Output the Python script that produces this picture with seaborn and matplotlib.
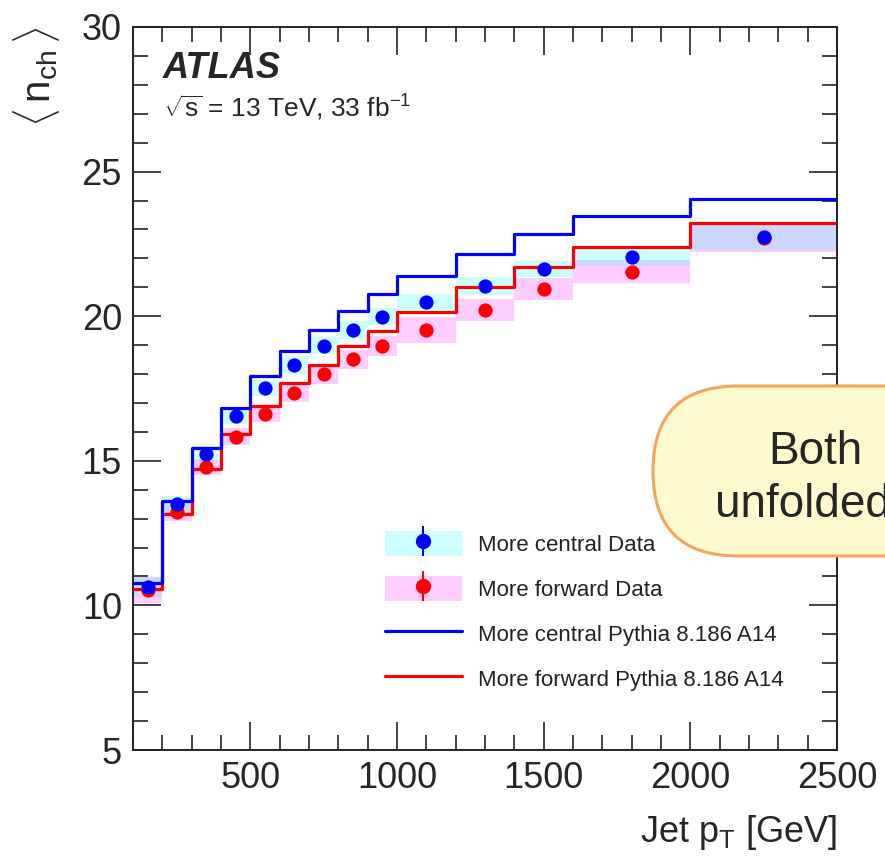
import matplotlib
matplotlib.use("Agg")
import matplotlib.pyplot as plt
import seaborn as sns
import numpy as np
import pandas as pd
from matplotlib.patches import Patch, FancyBboxPatch
from matplotlib.lines import Line2D
from matplotlib.ticker import MultipleLocator

# ---------------- data ----------------
bin_edges = [100, 200, 300, 400, 500, 600, 700, 800, 900, 1000, 1200, 1400, 1600, 2000, 2500]
central_data = [10.63, 13.50, 15.25, 16.54, 17.53, 18.31, 18.98, 19.52, 19.98, 20.49, 21.04, 21.62, 22.05, 22.75]
forward_data = [10.53, 13.23, 14.77, 15.84, 16.63, 17.35, 17.99, 18.51, 18.96, 19.53, 20.21, 20.95, 21.54, 22.69]
central_err = [0.35, 0.29, 0.25, 0.27, 0.28, 0.30, 0.30, 0.30, 0.30, 0.28, 0.30, 0.28, 0.30, 0.45]
forward_err = [0.46, 0.30, 0.27, 0.30, 0.30, 0.30, 0.32, 0.33, 0.35, 0.45, 0.38, 0.38, 0.40, 0.46]
central_mc = [10.77, 13.61, 15.44, 16.83, 17.93, 18.80, 19.54, 20.19, 20.78, 21.38, 22.15, 22.83, 23.46, 24.05]
forward_mc = [10.56, 13.16, 14.72, 15.93, 16.88, 17.68, 18.31, 18.96, 19.50, 20.15, 21.00, 21.69, 22.40, 23.23]

legend_labels = ["More central Data", "More forward Data",
                 "More central Pythia 8.186 A14", "More forward Pythia 8.186 A14"]

# ---------------- style ----------------
sns.set_style("ticks")
plt.rcParams['font.family'] = ['Liberation Sans', 'DejaVu Sans']
plt.rcParams['mathtext.fontset'] = 'custom'
plt.rcParams['mathtext.rm'] = 'Liberation Sans'
plt.rcParams['mathtext.it'] = 'Liberation Sans:italic'
plt.rcParams['mathtext.bf'] = 'Liberation Sans:bold'

W, H = 885, 865
fig = plt.figure(figsize=(W / 100, H / 100), dpi=100)
ax = fig.add_axes([133 / W, 1 - 750 / H, (837 - 133) / W, (750 - 27) / H])

edges = np.array(bin_edges, dtype=float)
lefts = edges[:-1]
widths = np.diff(edges)
centers = lefts + widths / 2

c_lo = np.array(central_data) - np.array(central_err)
c_hi = np.array(central_data) + np.array(central_err)
f_lo = np.array(forward_data) - np.array(forward_err)
f_hi = np.array(forward_data) + np.array(forward_err)
o_lo = np.maximum(c_lo, f_lo)
o_hi = np.minimum(c_hi, f_hi)
o_h = np.clip(o_hi - o_lo, 0, None)

cyan = '#ccffff'
pink = '#ffccff'
lav = '#ccd6ff'

ax.bar(lefts, f_hi - f_lo, bottom=f_lo, width=widths, align='edge', color=pink, linewidth=0, zorder=1)
ax.bar(lefts, c_hi - c_lo, bottom=c_lo, width=widths, align='edge', color=cyan, linewidth=0, zorder=1.1)
ax.bar(lefts, o_h, bottom=o_lo, width=widths, align='edge', color=lav, linewidth=0, zorder=1.2)

# MC step lines
df_mc = pd.DataFrame({
    'pt': np.concatenate([edges, edges]),
    'nch': np.concatenate([forward_mc + [forward_mc[-1]], central_mc + [central_mc[-1]]]),
    'sample': ['forward'] * len(edges) + ['central'] * len(edges),
})
sns.lineplot(data=df_mc[df_mc['sample'] == 'forward'], x='pt', y='nch', color='#ff0000',
             drawstyle='steps-post', linewidth=2.3, ax=ax, zorder=3, estimator=None, sort=False)
sns.lineplot(data=df_mc[df_mc['sample'] == 'central'], x='pt', y='nch', color='#0000ff',
             drawstyle='steps-post', linewidth=2.3, ax=ax, zorder=3.1, estimator=None, sort=False)

# data points
df_d = pd.DataFrame({'pt': np.concatenate([centers, centers]),
                     'nch': forward_data + central_data,
                     'sample': ['forward'] * len(centers) + ['central'] * len(centers)})
sns.scatterplot(data=df_d[df_d['sample'] == 'forward'], x='pt', y='nch', color='#ff0000',
                s=105, linewidth=0, ax=ax, zorder=4)
sns.scatterplot(data=df_d[df_d['sample'] == 'central'], x='pt', y='nch', color='#0000ff',
                s=105, linewidth=0, ax=ax, zorder=4.1)

# axes
ax.set_xlim(100, 2500)
ax.set_ylim(5, 30)
ax.xaxis.set_major_locator(MultipleLocator(500))
ax.xaxis.set_minor_locator(MultipleLocator(100))
ax.yaxis.set_major_locator(MultipleLocator(5))
ax.yaxis.set_minor_locator(MultipleLocator(1))
ax.tick_params(which='both', direction='in', top=True, right=True, width=1.2, color='#222222')
ax.tick_params(which='major', length=20, labelsize=26, pad=8)
ax.tick_params(which='minor', length=11)
for s in ax.spines.values():
    s.set_linewidth(1.4)
    s.set_color('#222222')
ax.set_xlabel(r'Jet $\mathrm{p}_{\mathrm{T}}$ [GeV]', fontsize=26, loc='right', labelpad=12)
ax.set_ylabel('')

fig.text(36 / W, 1 - 26 / H, r'$\langle\,\mathrm{n}_{\mathrm{ch}}\,\rangle$', rotation=90,
         ha='center', va='top', fontsize=29)

# ATLAS label
ax.text(163 / W, 1 - 68 / H, 'ATLAS', transform=fig.transFigure, fontsize=26,
        fontweight='bold', fontstyle='italic', ha='left', va='center')
ax.text(163 / W, 1 - 108 / H, r'$\sqrt{\mathrm{s}}$ = 13 TeV, 33 fb$^{-1}$', transform=fig.transFigure,
        fontsize=19, ha='left', va='center')

# legend
handles = [
    (Patch(facecolor=cyan, edgecolor='none'),
     Line2D([0], [0], marker='|', color='#0000ff', ls='none', ms=22, mew=1.5),
     Line2D([0], [0], marker='o', color='#0000ff', ls='none', ms=10)),
    (Patch(facecolor=pink, edgecolor='none'),
     Line2D([0], [0], marker='|', color='#ff0000', ls='none', ms=22, mew=1.5),
     Line2D([0], [0], marker='o', color='#ff0000', ls='none', ms=10)),
    Line2D([0], [0], color='#0000ff', lw=2.3),
    Line2D([0], [0], color='#ff0000', lw=2.3),
]
leg = ax.legend(handles, legend_labels, loc='upper left', bbox_to_anchor=(385 / W, 1 - 531 / H),
                bbox_transform=fig.transFigure, frameon=False, fontsize=16, borderpad=0,
                borderaxespad=0, handlelength=3.45, handleheight=1.35, handletextpad=0.72,
                labelspacing=0.9)
for t in leg.get_texts():
    t.set_color('#222222')

# "Both unfolded" callout bubble (overlay, clipped by image edge as in the reference)
bubble = FancyBboxPatch((6.53, (H - 556) / 100), 4.0, 1.70,
                        boxstyle='round,pad=0,rounding_size=0.85',
                        transform=fig.dpi_scale_trans, facecolor='#fffacd',
                        edgecolor='#f4a460', linewidth=2.2, zorder=10)
fig.patches.append(bubble)
fig.text(815 / W, 1 - 452 / H, 'Both', fontsize=33, ha='center', va='center', zorder=11)
fig.text(715 / W, 1 - 505 / H, 'unfolded', fontsize=33, ha='left', va='center', zorder=11)

fig.savefig('out.png', dpi=100)
